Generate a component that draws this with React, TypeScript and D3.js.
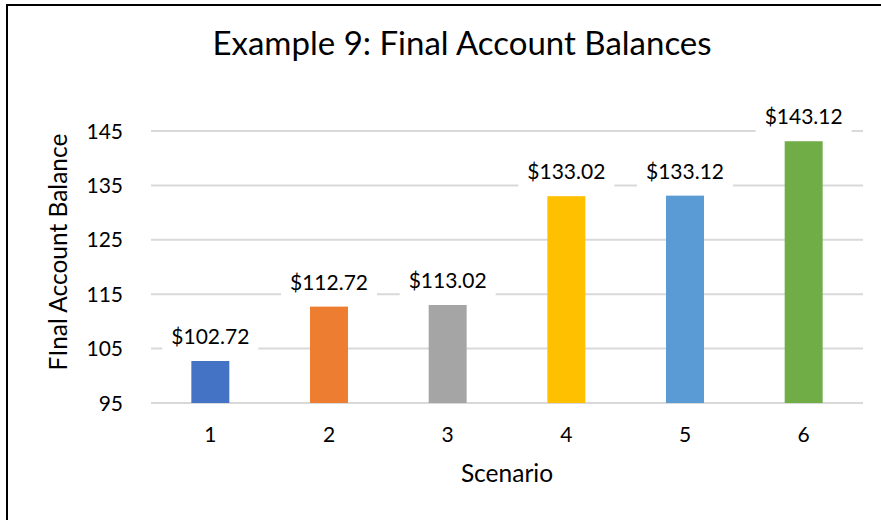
import React, { useEffect, useRef } from "react";
import * as d3 from "d3";

// datos de la grafica
const scenarios = ["1", "2", "3", "4", "5", "6"];
const balances = [102.72, 112.72, 113.02, 133.02, 133.12, 143.12];
const barColors = ["#4472C4", "#ED7D31", "#A5A5A5", "#FFC000", "#5B9BD5", "#70AD47"];
const yTicks = [95, 105, 115, 125, 135, 145];

const chartTitle = "Example 9: Final Account Balances";
const xTitle = "Scenario";
const yTitle = "FInal Account Balance";

const App = () => {
  const svgRef = useRef<SVGSVGElement>(null);
  const width = 881;
  const height = 520;
  const font = "Lato, 'Open Sans', sans-serif";

  const drawChart = () => {
    const svg = d3.select(svgRef.current);
    svg.selectAll("*").remove();

    // area de la grafica
    const left = 151;
    const right = 863;
    const top = 131;
    const bottom = 403;

    const x = d3
      .scaleBand()
      .domain(scenarios)
      .range([left, right])
      .paddingInner(0.68)
      .paddingOuter(0.34);
    const y = d3.scaleLinear().domain([95, 145]).range([bottom, top]);

    // marco (solo se ven izquierda y arriba)
    svg
      .append("path")
      .attr("d", `M7,${height} L7,5 L${width},5`)
      .attr("fill", "none")
      .attr("stroke", "#000")
      .attr("stroke-width", 2);

    // titulo
    svg
      .append("text")
      .attr("x", 462)
      .attr("y", 55)
      .attr("text-anchor", "middle")
      .style("font-family", font)
      .style("font-size", "33px")
      .attr("fill", "#000")
      .text(chartTitle);

    // lineas de la cuadricula
    svg
      .append("g")
      .selectAll("line")
      .data(yTicks)
      .enter()
      .append("line")
      .attr("x1", left)
      .attr("x2", right)
      .attr("y1", (d) => y(d))
      .attr("y2", (d) => y(d))
      .attr("stroke", "#D9D9D9")
      .attr("stroke-width", 2);

    // etiquetas eje y
    svg
      .append("g")
      .selectAll("text")
      .data(yTicks)
      .enter()
      .append("text")
      .attr("x", 123)
      .attr("y", (d) => y(d))
      .attr("dy", "0.36em")
      .attr("text-anchor", "end")
      .style("font-family", font)
      .style("font-size", "21px")
      .attr("fill", "#000")
      .text((d) => d);

    // barras
    svg
      .append("g")
      .selectAll("rect")
      .data(balances)
      .enter()
      .append("rect")
      .attr("x", (d, i) => x(scenarios[i]) as number)
      .attr("y", (d) => y(d))
      .attr("width", x.bandwidth())
      .attr("height", (d) => bottom - y(d))
      .attr("fill", (d, i) => barColors[i]);

    // etiquetas de datos con fondo blanco
    const labels = svg
      .append("g")
      .selectAll("g")
      .data(balances)
      .enter()
      .append("g")
      .attr(
        "transform",
        (d, i) => `translate(${(x(scenarios[i]) as number) + x.bandwidth() / 2},${y(d) - 17})`
      );
    labels.append("rect").attr("fill", "#fff");
    labels
      .append("text")
      .attr("text-anchor", "middle")
      .style("font-family", font)
      .style("font-size", "21px")
      .attr("fill", "#000")
      .text((d) => "$" + d.toFixed(2));
    labels.each(function () {
      const g = d3.select(this);
      const w = (g.select("text").node() as SVGTextElement).getComputedTextLength();
      g.select("rect")
        .attr("x", -w / 2 - 9)
        .attr("y", -21)
        .attr("width", w + 18)
        .attr("height", 30);
    });

    // etiquetas eje x
    svg
      .append("g")
      .selectAll("text")
      .data(scenarios)
      .enter()
      .append("text")
      .attr("x", (d) => (x(d) as number) + x.bandwidth() / 2)
      .attr("y", 442)
      .attr("text-anchor", "middle")
      .style("font-family", font)
      .style("font-size", "21px")
      .attr("fill", "#000")
      .text((d) => d);

    // titulos de ejes
    svg
      .append("text")
      .attr("x", (left + right) / 2)
      .attr("y", 482)
      .attr("text-anchor", "middle")
      .style("font-family", font)
      .style("font-size", "24.5px")
      .attr("fill", "#000")
      .text(xTitle);
    svg
      .append("text")
      .attr("transform", "translate(67,252) rotate(-90)")
      .attr("text-anchor", "middle")
      .style("font-family", font)
      .style("font-size", "24.5px")
      .attr("fill", "#000")
      .text(yTitle);
  };

  useEffect(() => {
    if (svgRef.current) drawChart();
  }, []);

  return (
    <svg
      ref={svgRef}
      width={width}
      height={height}
      style={{ position: "absolute", left: 0, top: 0, background: "#fff" }}
    ></svg>
  );
};

export default App;
